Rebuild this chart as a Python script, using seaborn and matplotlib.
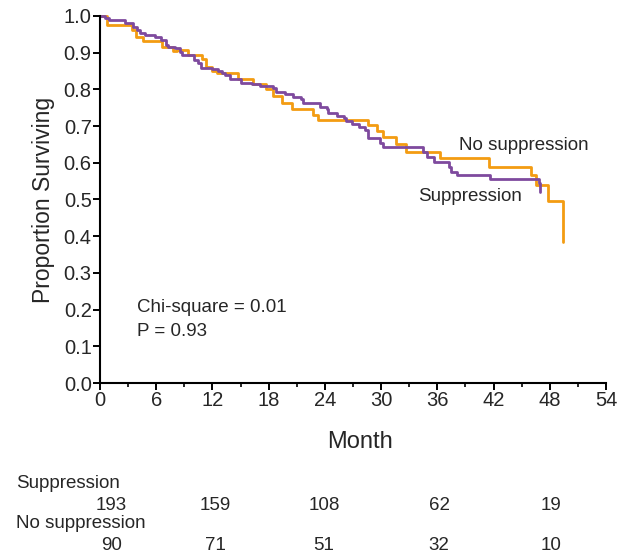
import numpy as np
import pandas as pd
import seaborn as sns
import matplotlib.pyplot as plt
from matplotlib.ticker import MultipleLocator

sns.set_theme(style="white")
plt.rcParams["font.family"] = ["Liberation Sans", "DejaVu Sans"]

# Kaplan-Meier step points (month, proportion surviving)
supp_month = [0, 0.5, 1.0, 2.7, 3.5, 4.0, 4.3, 4.8, 5.9, 6.5, 7.0, 7.3, 8.0, 8.5, 8.8,
              10.0, 10.5, 10.8, 11.9, 12.6, 13.0, 13.3, 13.9, 15.0, 16.2, 17.1, 18.5,
              18.8, 19.7, 20.6, 21.5, 21.7, 23.5, 24.2, 24.3, 25.3, 26.0, 26.3, 26.9,
              27.6, 28.3, 28.6, 29.9, 30.2, 34.5, 34.9, 35.6, 37.2, 37.5, 38.1, 41.6,
              46.9, 47.0]
supp_surv = [1.0, 0.995, 0.989, 0.982, 0.971, 0.962, 0.953, 0.948, 0.944, 0.935, 0.922,
             0.916, 0.912, 0.903, 0.894, 0.880, 0.871, 0.859, 0.856, 0.850, 0.845, 0.839,
             0.828, 0.818, 0.814, 0.809, 0.803, 0.794, 0.787, 0.778, 0.773, 0.762, 0.751,
             0.746, 0.735, 0.728, 0.721, 0.714, 0.707, 0.698, 0.689, 0.667, 0.655, 0.642,
             0.630, 0.617, 0.603, 0.589, 0.576, 0.567, 0.555, 0.546, 0.521]

nosupp_month = [0, 0.75, 3.4, 3.8, 4.6, 6.6, 7.8, 8.2, 9.4, 10.85, 11.3, 11.9, 12.5, 14.7,
                16.3, 17.7, 18.5, 19.4, 20.5, 22.7, 23.3, 28.6, 29.6, 30.2, 31.6, 32.7,
                36.3, 41.5, 46.0, 46.5, 47.8, 49.4, 49.45]
nosupp_surv = [1.0, 0.975, 0.962, 0.942, 0.933, 0.916, 0.905, 0.907, 0.895, 0.883, 0.862,
               0.851, 0.845, 0.828, 0.815, 0.80, 0.782, 0.763, 0.747, 0.730, 0.717, 0.703,
               0.687, 0.669, 0.651, 0.630, 0.612, 0.589, 0.567, 0.540, 0.496, 0.444, 0.385]

risk_groups = ["Suppression", "No suppression"]
risk_supp = [193, 159, 108, 62, 19]
risk_nosupp = [90, 71, 51, 32, 10]
risk_x = [1.2, 12.3, 23.9, 36.2, 48.1]

orange = "#F39C12"
purple = "#7E4A9E"

fig = plt.figure(figsize=(6.31, 5.55), dpi=100)
ax = fig.add_axes([0.1585, 0.3099, 0.8019, 0.6613])

sns.lineplot(x=nosupp_month, y=nosupp_surv, drawstyle="steps-post", color=orange,
             linewidth=2, ax=ax, clip_on=False)
sns.lineplot(x=supp_month, y=supp_surv, drawstyle="steps-post", color=purple,
             linewidth=2, ax=ax, clip_on=False)

ax.set_xlim(0, 54)
ax.set_ylim(0, 1.0)
ax.xaxis.set_major_locator(MultipleLocator(6))
ax.xaxis.set_minor_locator(MultipleLocator(3))
ax.yaxis.set_major_locator(MultipleLocator(0.1))
ax.yaxis.set_major_formatter(plt.FormatStrFormatter("%.1f"))
ax.tick_params(axis="both", which="major", direction="out", length=5, width=1.4,
               labelsize=14.5, color="black", pad=1, bottom=True, left=True)
ax.tick_params(axis="x", which="minor", direction="out", length=3, width=1.2,
               bottom=True, color="black")
sns.despine(ax=ax)
for s in ["left", "bottom"]:
    ax.spines[s].set_linewidth(1.5)
    ax.spines[s].set_color("black")

ax.set_xlabel("Month", fontsize=17)
ax.xaxis.set_label_coords(0.514, -0.13)
ax.set_ylabel("Proportion Surviving", fontsize=16.5, labelpad=6)

ax.text(4, 0.205, "Chi-square = 0.01", fontsize=13.5, va="center")
ax.text(4, 0.14, "P = 0.93", fontsize=13.5, va="center")
ax.text(38.3, 0.648, "No suppression", fontsize=13.5, va="center")
ax.text(33.9, 0.508, "Suppression", fontsize=13.5, va="center")

# number at risk table under the axis
trans = ax.get_xaxis_transform()
fig.text(16 / 631, 1 - 483 / 555, risk_groups[0], fontsize=13.5, va="center")
fig.text(16 / 631, 1 - 524 / 555, risk_groups[1], fontsize=13.5, va="center")
y_supp = (383 - 505) / 367
y_nosupp = (383 - 545) / 367
for xv, a, b in zip(risk_x, risk_supp, risk_nosupp):
    ax.text(xv, y_supp, str(a), transform=trans, fontsize=13.5, ha="center", va="center")
    ax.text(xv, y_nosupp, str(b), transform=trans, fontsize=13.5, ha="center", va="center")

fig.savefig("out.png", dpi=100)
